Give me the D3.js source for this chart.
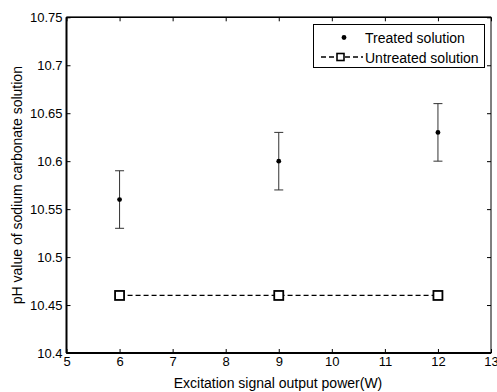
<!DOCTYPE html>
<html>
<head>
<meta charset="utf-8">
<script src="https://cdn.jsdelivr.net/npm/d3@7"></script>
<style>
  body { margin: 0; background: #fff; }
  text { font-family: Arial, "Liberation Sans", sans-serif; }
</style>
</head>
<body>
<div id="chart"></div>
<script>
const w = 497, h = 392;
const m = {l: 66.5, r: 6, t: 17.3, b: 39};

const power = [6, 9, 12];
const treated = [10.56, 10.60, 10.63];
const treatedLo = [10.53, 10.57, 10.60];
const treatedHi = [10.59, 10.63, 10.66];
const untreated = [10.46, 10.46, 10.46];
const xTicks = [5, 6, 7, 8, 9, 10, 11, 12, 13];
const yTicks = [10.4, 10.45, 10.5, 10.55, 10.6, 10.65, 10.7, 10.75];

const svg = d3.select("#chart").append("svg").attr("width", w).attr("height", h);

const x = d3.scaleLinear().domain([5, 13]).range([m.l, w - m.r]);
const y = d3.scaleLinear().domain([10.4, 10.75]).range([h - m.b, m.t]);

// frame
const g = svg.append("g");
g.append("rect")
  .attr("x", x(5)).attr("y", y(10.75))
  .attr("width", x(13) - x(5)).attr("height", y(10.4) - y(10.75))
  .attr("fill", "none").attr("stroke", "#000").attr("stroke-width", 1);
g.append("line").attr("x1", x(5)).attr("x2", x(5)).attr("y1", y(10.75)).attr("y2", y(10.4))
  .attr("stroke", "#000").attr("stroke-width", 2);
g.append("line").attr("x1", x(5)).attr("x2", x(13)).attr("y1", y(10.4)).attr("y2", y(10.4))
  .attr("stroke", "#000").attr("stroke-width", 2);
g.append("line").attr("x1", x(5)).attr("x2", x(13)).attr("y1", y(10.75)).attr("y2", y(10.75))
  .attr("stroke", "#000").attr("stroke-width", 1.5);

// inward ticks, mirrored
const xAxB = d3.axisBottom(x).tickValues(xTicks).tickSizeInner(-4).tickSizeOuter(0).tickPadding(4).tickFormat(d3.format("d"));
const xAxT = d3.axisTop(x).tickValues(xTicks).tickSizeInner(-4).tickSizeOuter(0).tickFormat("");
const yAxL = d3.axisLeft(y).tickValues(yTicks).tickSizeInner(-4).tickSizeOuter(0).tickPadding(4).tickFormat(d => d3.format("")(+d.toFixed(2)));
const yAxR = d3.axisRight(y).tickValues(yTicks).tickSizeInner(-4).tickSizeOuter(0).tickFormat("");

function style(sel) {
  sel.select(".domain").remove();
  sel.selectAll("text").attr("font-size", 13).attr("fill", "#000");
  sel.selectAll("line").attr("stroke", "#000");
}
svg.append("g").attr("transform", `translate(0,${y(10.4)})`).call(xAxB).call(style);
svg.append("g").attr("transform", `translate(0,${y(10.75)})`).call(xAxT).call(style);
svg.append("g").attr("transform", `translate(${x(5)},0)`).call(yAxL).call(style);
svg.append("g").attr("transform", `translate(${x(13)},0)`).call(yAxR).call(style);

// axis titles
svg.append("text").attr("x", 278).attr("y", 388)
  .attr("text-anchor", "middle").attr("font-size", 14).text("Excitation signal output power(W)");
svg.append("text").attr("transform", `translate(22,${(y(10.4) + y(10.75)) / 2}) rotate(-90)`)
  .attr("text-anchor", "middle").attr("font-size", 14).text("pH value of sodium carbonate solution");

// untreated series
const line = d3.line().x((d, i) => x(power[i])).y(d => y(d));
svg.append("path").datum(untreated).attr("d", line)
  .attr("fill", "none").attr("stroke", "#000").attr("stroke-width", 1.3).attr("stroke-dasharray", "5,3");
svg.selectAll(".sq").data(untreated).join("rect")
  .attr("x", (d, i) => x(power[i]) - 4.5).attr("y", d => y(d) - 4.5)
  .attr("width", 9).attr("height", 9)
  .attr("fill", "#fff").attr("stroke", "#000").attr("stroke-width", 1.8);

// treated series with error bars
const eb = svg.append("g").attr("stroke", "#333").attr("stroke-width", 1);
power.forEach((p, i) => {
  eb.append("line").attr("x1", x(p)).attr("x2", x(p)).attr("y1", y(treatedLo[i])).attr("y2", y(treatedHi[i]));
  eb.append("line").attr("x1", x(p) - 4.5).attr("x2", x(p) + 4.5).attr("y1", y(treatedLo[i])).attr("y2", y(treatedLo[i]));
  eb.append("line").attr("x1", x(p) - 4.5).attr("x2", x(p) + 4.5).attr("y1", y(treatedHi[i])).attr("y2", y(treatedHi[i]));
});
svg.selectAll(".dot").data(treated).join("circle")
  .attr("cx", (d, i) => x(power[i])).attr("cy", d => y(d)).attr("r", 2.4).attr("fill", "#000");

// legend
const lg = svg.append("g");
lg.append("rect").attr("x", 313.5).attr("y", 24.5).attr("width", 171).attr("height", 43)
  .attr("fill", "#fff").attr("stroke", "#000").attr("stroke-width", 1);
lg.append("circle").attr("cx", 344).attr("cy", 37.5).attr("r", 2.4).attr("fill", "#000");
lg.append("text").attr("x", 365).attr("y", 42.5).attr("font-size", 14).text("Treated solution");
lg.append("line").attr("x1", 321).attr("x2", 363).attr("y1", 57).attr("y2", 57)
  .attr("stroke", "#000").attr("stroke-width", 1.3).attr("stroke-dasharray", "5,3");
lg.append("rect").attr("x", 337).attr("y", 53.5).attr("width", 7).attr("height", 7)
  .attr("fill", "#fff").attr("stroke", "#000").attr("stroke-width", 1.6);
lg.append("text").attr("x", 365).attr("y", 63).attr("font-size", 14).text("Untreated solution");
</script>
</body>
</html>
